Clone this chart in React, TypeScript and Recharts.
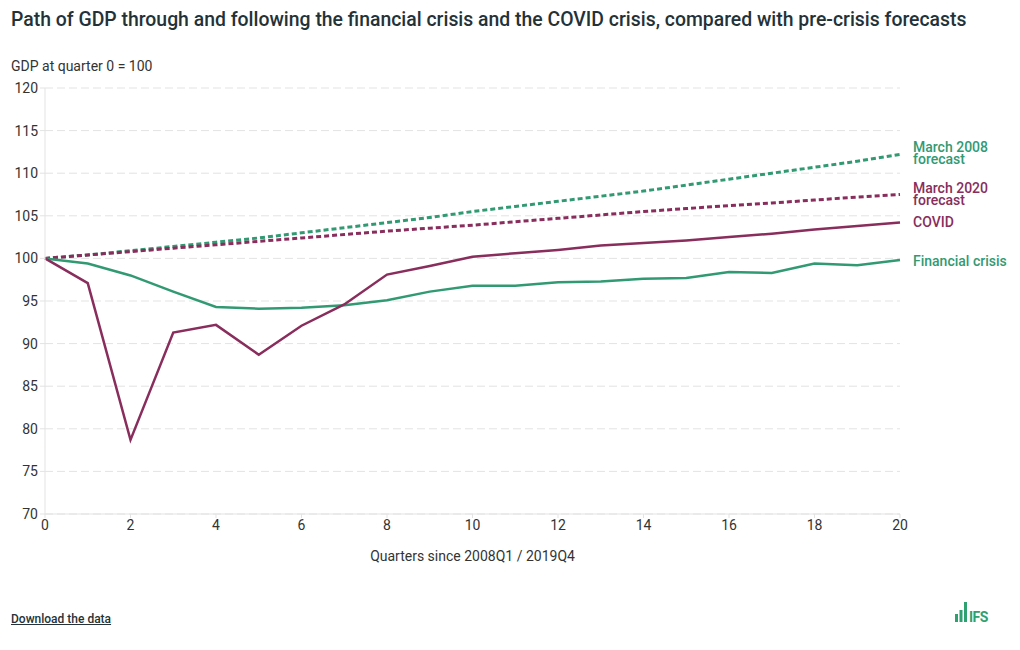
import React from 'react';
import { LineChart, Line, XAxis, YAxis, CartesianGrid } from 'recharts';

const quarters = [0, 1, 2, 3, 4, 5, 6, 7, 8, 9, 10, 11, 12, 13, 14, 15, 16, 17, 18, 19, 20];
const financialCrisis = [100, 99.4, 98.0, 96.1, 94.3, 94.1, 94.2, 94.5, 95.1, 96.1, 96.8, 96.8, 97.2, 97.3, 97.6, 97.7, 98.4, 98.3, 99.4, 99.2, 99.8];
const covid = [100, 97.1, 78.7, 91.3, 92.2, 88.7, 92.1, 94.6, 98.1, 99.1, 100.2, 100.6, 101.0, 101.5, 101.8, 102.1, 102.5, 102.9, 103.4, 103.8, 104.2];
const forecast2008 = [100, 100.4, 100.9, 101.4, 101.9, 102.4, 103.0, 103.6, 104.2, 104.8, 105.5, 106.1, 106.7, 107.3, 107.9, 108.6, 109.3, 110.0, 110.7, 111.4, 112.2];
const forecast2020 = [100, 100.4, 100.8, 101.2, 101.6, 102.0, 102.4, 102.8, 103.2, 103.55, 103.9, 104.3, 104.7, 105.1, 105.5, 105.85, 106.2, 106.5, 106.85, 107.2, 107.5];
const xTicks = [0, 2, 4, 6, 8, 10, 12, 14, 16, 18, 20];
const yTicks = [70, 75, 80, 85, 90, 95, 100, 105, 110, 115, 120];

const GREEN = '#329a73';
const PURPLE = '#882d5c';
const TEXT = '#333';
const FONT = 'Roboto, sans-serif';

const data = quarters.map((q, i) => ({
  q,
  fin: financialCrisis[i],
  covid: covid[i],
  f08: forecast2008[i],
  f20: forecast2020[i],
}));

// text next to the last point of a series
function endLabel(lines: string[], color: string, dy: number) {
  return (props: any) => {
    if (props.index !== quarters.length - 1) return null;
    const x = props.x + 13;
    return (
      <text x={x} y={props.y + dy} fill={color} fontSize={14} fontWeight={500} fontFamily={FONT}>
        {lines.map((l, i) => (
          <tspan key={i} x={x} dy={i === 0 ? 0 : 12}>{l}</tspan>
        ))}
      </text>
    );
  };
}

export default function App() {
  return (
    <div style={{ position: 'absolute', left: 0, top: 0, width: 1020, height: 650, background: '#fff', fontFamily: FONT, color: TEXT }}>
      <div style={{ position: 'absolute', left: 11, top: 8, fontSize: 19.4, fontWeight: 500, color: '#243238', whiteSpace: 'nowrap' }}>
        Path of GDP through and following the financial crisis and the COVID crisis, compared with pre-crisis forecasts
      </div>
      <div style={{ position: 'absolute', left: 11, top: 58, fontSize: 14 }}>GDP at quarter 0 = 100</div>

      <div style={{ position: 'absolute', left: 0, top: 0 }}>
        <LineChart width={1020} height={650} data={data} margin={{ top: 88, right: 120, bottom: 106, left: 0 }}>
          <CartesianGrid vertical={false} stroke="#e3e3e3" strokeDasharray="8 4" />
          <XAxis
            dataKey="q"
            type="number"
            domain={[0, 20]}
            ticks={xTicks}
            height={30}
            axisLine={{ stroke: '#e3e3e3' }}
            tickLine={{ stroke: '#e3e3e3' }}
            tickSize={4}
            tick={{ fill: TEXT, fontSize: 14, fontFamily: FONT }}
          />
          <YAxis
            type="number"
            domain={[70, 120]}
            ticks={yTicks}
            width={45}
            axisLine={{ stroke: '#e3e3e3' }}
            tickLine={{ stroke: '#e3e3e3' }}
            tickSize={5}
            tick={{ fill: TEXT, fontSize: 14, fontFamily: FONT }}
          />
          <Line dataKey="f08" stroke={GREEN} strokeWidth={3} strokeDasharray="5 3" dot={false} isAnimationActive={false}
            label={endLabel(['March 2008', 'forecast'], GREEN, -2)} />
          <Line dataKey="f20" stroke={PURPLE} strokeWidth={3} strokeDasharray="5 3" dot={false} isAnimationActive={false}
            label={endLabel(['March 2020', 'forecast'], PURPLE, -2)} />
          <Line dataKey="fin" stroke={GREEN} strokeWidth={2.5} dot={false} isAnimationActive={false}
            label={endLabel(['Financial crisis'], GREEN, 6)} />
          <Line dataKey="covid" stroke={PURPLE} strokeWidth={2.5} dot={false} isAnimationActive={false}
            label={endLabel(['COVID'], PURPLE, 4)} />
        </LineChart>
      </div>

      <div style={{ position: 'absolute', left: 0, width: 945, top: 548, textAlign: 'center', fontSize: 14 }}>
        Quarters since 2008Q1 / 2019Q4
      </div>
      <div style={{ position: 'absolute', left: 11, top: 612, fontSize: 12, fontWeight: 500, color: '#263238', textDecoration: 'underline' }}>
        Download the data
      </div>
      <svg style={{ position: 'absolute', left: 955, top: 600 }} width={50} height={26}>
        <rect x={0} y={14} width={3} height={8} fill="#2fa070" />
        <rect x={4.5} y={10} width={3} height={12} fill="#2fa070" />
        <rect x={9} y={2} width={3} height={20} fill="#2fa070" />
        <text x={14} y={22} fill="#2fa070" fontSize={14} fontWeight={700} fontFamily={FONT} letterSpacing={-0.5}>IFS</text>
      </svg>
    </div>
  );
}
